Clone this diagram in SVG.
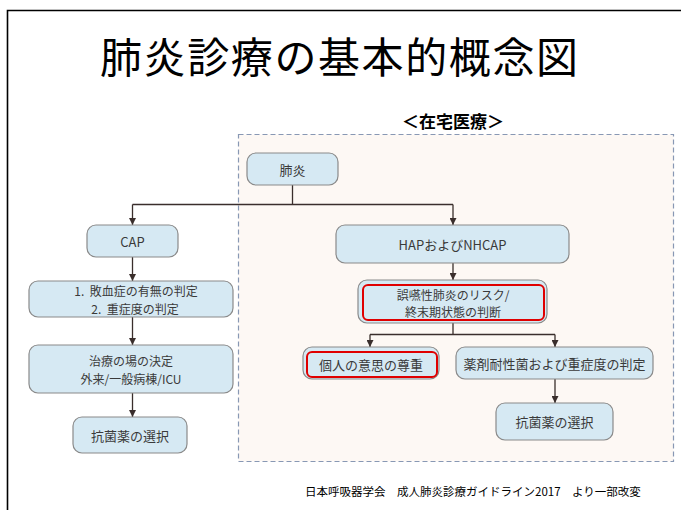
<svg xmlns="http://www.w3.org/2000/svg" width="681" height="510" viewBox="0 0 681 510">
<defs>
<marker id="ah" viewBox="0 0 10 10" refX="10" refY="5" markerWidth="7" markerHeight="7" markerUnits="userSpaceOnUse" orient="auto">
<path d="M0,0 L10,5 L0,10 z" fill="#3a2e2c"/>
</marker>
<style>
.box{fill:#d6e9f3;stroke:#8a8a8a;stroke-width:1.2}
.red{fill:none;stroke:#e00000;stroke-width:2}
.t{font-family:"Noto Sans CJK JP","Noto Sans",sans-serif;font-size:13px;fill:#3a3a3a;text-anchor:middle;dominant-baseline:central}
.t2{font-family:"Noto Sans CJK JP","Noto Sans",sans-serif;font-size:12px;fill:#3a3a3a;text-anchor:middle;dominant-baseline:central;white-space:pre}
.c{fill:none;stroke:#3a2e2c;stroke-width:1.3}
</style>
</defs>
<rect width="681" height="510" fill="#ffffff"/>
<path d="M7.5,510 V10.5 H681" fill="none" stroke="#000" stroke-width="1.6"/>
<text x="100" y="54" font-family="'Noto Sans CJK JP',sans-serif" font-size="42" letter-spacing="1.6" dominant-baseline="central" fill="#000">肺炎診療の基本的概念図</text>
<text x="453" y="120" font-family="'Noto Sans CJK JP',sans-serif" font-size="17" font-weight="bold" text-anchor="middle" dominant-baseline="central" fill="#000">＜在宅医療＞</text>
<rect x="238.5" y="134.5" width="435" height="327" fill="#fdf8f4" stroke="#8898b4" stroke-width="1.2" stroke-dasharray="5,3"/>
<g id="connectors">
<path class="c" d="M292.5,185 V204.5"/>
<path class="c" d="M132.5,204.5 H453"/>
<path class="c" d="M132.5,204.5 V225" marker-end="url(#ah)"/>
<path class="c" d="M453,204.5 V225" marker-end="url(#ah)"/>
<path class="c" d="M132.5,257 V281" marker-end="url(#ah)"/>
<path class="c" d="M132.5,317 V345" marker-end="url(#ah)"/>
<path class="c" d="M132.5,393 V417" marker-end="url(#ah)"/>
<path class="c" d="M453,263 V280" marker-end="url(#ah)"/>
<path class="c" d="M453,323 V334.5 M370,334.5 H555"/>
<path class="c" d="M370,334.5 V347" marker-end="url(#ah)"/>
<path class="c" d="M555,334.5 V347" marker-end="url(#ah)"/>
<path class="c" d="M555,379 V403" marker-end="url(#ah)"/>
</g>
<g id="n-pneumonia">
<rect class="box" x="247" y="153" width="91" height="32" rx="9"/>
<text class="t" x="292.5" y="169">肺炎</text>
</g>
<g id="n-cap">
<rect class="box" x="87" y="225" width="91" height="32" rx="9"/>
<text class="t" x="132.5" y="241">CAP</text>
</g>
<g id="n-hap">
<rect class="box" x="336" y="225" width="233" height="38" rx="9"/>
<text class="t" x="452.5" y="244">HAPおよびNHCAP</text>
</g>
<g id="n-sepsis">
<rect class="box" x="29" y="281" width="204" height="36" rx="9"/>
<text class="t2" x="136" y="290.5">1.  敗血症の有無の判定</text>
<text class="t2" x="135" y="308">2.  重症度の判定</text>
</g>
<g id="n-place">
<rect class="box" x="29" y="345" width="204" height="48" rx="9"/>
<text class="t2" x="131" y="360.5">治療の場の決定</text>
<text class="t2" x="131" y="378">外来/一般病棟/ICU</text>
</g>
<g id="n-abx-left">
<rect class="box" x="73" y="417" width="114" height="36" rx="9"/>
<text class="t" x="130" y="435">抗菌薬の選択</text>
</g>
<g id="n-aspiration">
<rect class="box" x="358" y="280" width="189" height="43" rx="9"/>
<rect class="red" x="363" y="285" width="181" height="35" rx="5"/>
<text class="t2" x="453" y="294">誤嚥性肺炎のリスク/</text>
<text class="t2" x="453" y="311.5">終末期状態の判断</text>
</g>
<g id="n-respect">
<rect class="box" x="303" y="347" width="136" height="32" rx="9"/>
<rect class="red" x="307" y="352" width="130" height="25" rx="5"/>
<text class="t" x="371" y="364.5">個人の意思の尊重</text>
</g>
<g id="n-resistance">
<rect class="box" x="456" y="347" width="197" height="32" rx="9"/>
<text class="t" x="554.5" y="363">薬剤耐性菌および重症度の判定</text>
</g>
<g id="n-abx-right">
<rect class="box" x="496" y="403" width="117" height="37" rx="9"/>
<text class="t" x="554.5" y="421.5">抗菌薬の選択</text>
</g>
<text x="305" y="491" font-family="'Noto Sans CJK JP',sans-serif" font-size="11.5" dominant-baseline="central" fill="#000">日本呼吸器学会　成人肺炎診療ガイドライン2017　より一部改変</text>
</svg>
